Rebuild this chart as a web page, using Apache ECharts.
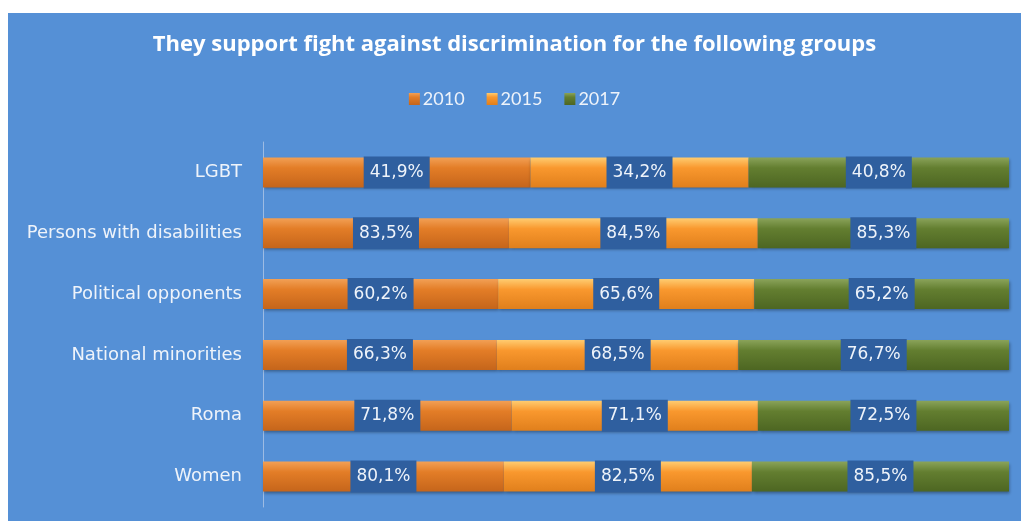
<!DOCTYPE html>
<html>
<head>
<meta charset="utf-8">
<script src="https://cdn.jsdelivr.net/npm/echarts@6/dist/echarts.min.js"></script>
<style>
  html, body { margin: 0; padding: 0; background: #fff; }
  #chart { position: absolute; left: 8px; top: 13px; width: 1013px; height: 508px; }
</style>
</head>
<body>
<div id="chart"></div>
<script>
// data
var groups = ['LGBT', 'Persons with disabilities', 'Political opponents', 'National minorities', 'Roma', 'Women']
var years = ['2010', '2015', '2017']
var v2010 = [41.9, 83.5, 60.2, 66.3, 71.8, 80.1]
var v2015 = [34.2, 84.5, 65.6, 68.5, 71.1, 82.5]
var v2017 = [40.8, 85.3, 65.2, 76.7, 72.5, 85.5]

var raw = [v2010, v2015, v2017]

// bars are stacked to 100% of the row total (like excel 100% stacked bar)
function share (arr, i) {
  var total = v2010[i] + v2015[i] + v2017[i]
  return arr[i] / total * 100
}

function grad (top, mid, bottom) {
  return new echarts.graphic.LinearGradient(0, 0, 0, 1, [
    { offset: 0, color: top },
    { offset: 0.35, color: mid },
    { offset: 1, color: bottom }
  ])
}

var colors = [
  grad('#f2a055', '#e37d27', '#c5651b'),
  grad('#ffcc70', '#f9982e', '#e07f1c'),
  grad('#8aa35a', '#637e30', '#4d6622')
]

var myChart = echarts.init(document.getElementById('chart'))

var series = raw.map(function (arr, s) {
  return {
    name: years[s],
    type: 'bar',
    stack: 'total',
    barWidth: 30,
    data: groups.map(function (g, i) { return share(arr, i) }),
    itemStyle: {
      color: colors[s],
      shadowColor: 'rgba(0,0,0,0.35)',
      shadowBlur: 3,
      shadowOffsetX: 1,
      shadowOffsetY: 2
    },
    label: {
      show: true,
      position: 'inside',
      formatter: function (p) {
        return arr[p.dataIndex].toFixed(1).replace('.', ',') + '%'
      },
      color: '#eef3fa',
      fontFamily: 'DejaVu Sans',
      fontSize: 17,
      backgroundColor: '#2f5f9f',
      padding: [7, 6],
      width: 54,
      height: 18,
      lineHeight: 18,
      align: 'center'
    }
  }
})

myChart.setOption({
  backgroundColor: '#5590d6',
  animation: false,
  title: {
    text: 'They support fight against discrimination for the following groups',
    left: 'center',
    top: 21,
    padding: 0,
    textStyle: {
      color: '#ffffff',
      fontFamily: 'Open Sans',
      fontWeight: 'bold',
      fontSize: 22
    }
  },
  legend: {
    data: years,
    left: 'center',
    top: 77,
    padding: 0,
    icon: 'rect',
    itemWidth: 11,
    itemHeight: 12,
    itemGap: 22,
    textStyle: {
      color: '#eef3fa',
      fontFamily: 'Lato',
      fontSize: 18,
      padding: [0, 0, 0, -2]
    }
  },
  grid: {
    left: 255,
    right: 12,
    top: 129,
    bottom: 14
  },
  xAxis: {
    type: 'value',
    min: 0,
    max: 100,
    show: false
  },
  yAxis: {
    type: 'category',
    data: groups,
    inverse: true,
    axisLine: { show: true, lineStyle: { color: '#9dbbe3', width: 1 } },
    axisTick: { show: false },
    axisLabel: {
      color: '#eef3fa',
      fontFamily: 'DejaVu Sans',
      fontSize: 18,
      margin: 21
    }
  },
  series: series
})
</script>
</body>
</html>
